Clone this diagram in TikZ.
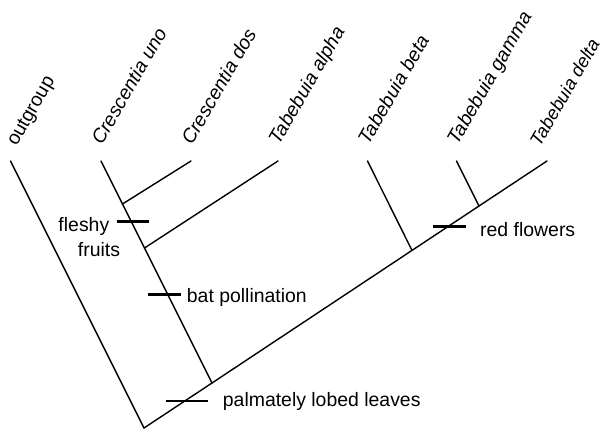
\documentclass[tikz,border=0pt]{standalone}
\usepackage{fontspec}
\setmainfont{Liberation Sans}
\usetikzlibrary{calc}
\begin{document}
\begin{tikzpicture}[x=1bp,y=-1bp,
  branch/.style={line width=1.4bp, line cap=round},
  tick/.style={line width=2.6bp},
  taxon/.style={rotate=60, anchor=base west, inner sep=0pt, font=\fontsize{19.5}{22}\selectfont},
  trait/.style={anchor=base west, inner sep=0pt, font=\fontsize{19.5}{22}\selectfont}]
\useasboundingbox (0,0) rectangle (603,433);
% internal nodes
\coordinate (R) at (144,428);
\coordinate (nC) at (212,383);
\coordinate (nA) at (144.5,248);
\coordinate (nD) at (122.5,204);
\coordinate (nB) at (412,250.4);
\coordinate (nG) at (479,206);
% tips
\coordinate (tO) at (10.5,161);
\coordinate (tU) at (101,161);
\coordinate (tD) at (191,161);
\coordinate (tA) at (278,161);
\coordinate (tB) at (367.5,161);
\coordinate (tG) at (456.5,161);
\coordinate (tL) at (547,161);
% branches
\draw[branch] (tO) -- (R) -- (nC) -- (nB) -- (nG) -- (tL);
\draw[branch] (nC) -- (nA) -- (nD) -- (tU);
\draw[branch] (nD) -- (tD);
\draw[branch] (nA) -- (tA);
\draw[branch] (nB) -- (tB);
\draw[branch] (nG) -- (tG);
% taxon labels
\node[taxon] (lO) at ($(tO)+(6,-14)$) {outgroup};
\node[taxon] (lU) at ($(tU)+(1,-15)$) {\itshape Crescentia uno};
\node[taxon] (lD) at ($(tD)+(1,-15)$) {\itshape Crescentia dos};
\node[taxon] (lA) at ($(tA)+(1,-15)$) {\itshape Tabebuia alpha};
\node[taxon] (lB) at ($(tB)+(1,-15)$) {\itshape Tabebuia beta};
\node[taxon] (lG) at ($(tG)+(1,-15)$) {\itshape Tabebuia gamma};
\node[taxon, font=\fontsize{18.5}{22}\selectfont] (lL) at ($(tL)+(-7,-13)$) {\itshape Tabebuia delta};
% character ticks
\coordinate (k1a) at (116.7,221.7); \coordinate (k1b) at (149.3,221.7);
\coordinate (k2a) at (147.7,294.3); \coordinate (k2b) at (181,294.3);
\coordinate (k3a) at (166,401); \coordinate (k3b) at (207.7,401);
\coordinate (k4a) at (433,226.7); \coordinate (k4b) at (465.7,226.7);
\draw[tick] (k1a) -- (k1b);
\draw[tick] (k2a) -- (k2b);
\draw[tick] (k3a) -- (k3b);
\draw[tick] (k4a) -- (k4b);
% trait labels
\node[trait] (f1) at (58.3,231.7) {fleshy};
\node[trait] (f2) at (77.7,256.7) {fruits};
\node[trait] (bp) at (186.7,302.7) {bat pollination};
\node[trait] (pl) at (222.7,406.5) {palmately lobed leaves};
\node[trait] (rf) at (480,236.7) {red flowers};
\end{tikzpicture}
\end{document}
